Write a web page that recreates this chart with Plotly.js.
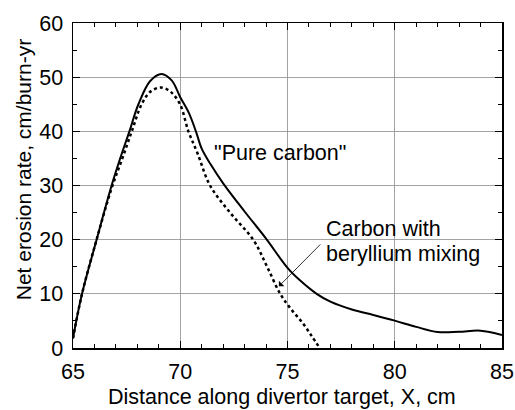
<!DOCTYPE html>
<html>
<head>
<meta charset="utf-8">
<script src="https://cdn.plot.ly/plotly-3.0.1.min.js"></script>
<style>html,body{margin:0;padding:0;background:#fff;}#chart{width:515px;height:410px;}</style>
</head>
<body>
<div id="chart"></div>
<script>
// Data
const pureX = [65, 65.42, 66.1, 66.8, 67.2, 67.63, 68.05, 68.6, 69.13, 69.6, 70.0, 70.4, 70.73, 71.0, 71.4, 72.0, 73.0, 74.0, 75.0, 75.58, 76.36, 77.0, 78.0, 79.0, 80.0, 81.0, 82.0, 83.0, 84.0, 85.0];
const pureY = [1.8, 10, 20, 30, 35, 40, 45, 49.3, 50.6, 49.4, 46.3, 43.4, 40, 36.8, 34.0, 30.4, 25.2, 20.2, 14.8, 12.5, 10, 8.55, 7.1, 6.1, 5.05, 3.9, 2.95, 3.0, 3.2, 2.4];
const mixX = [65, 65.42, 66.1, 66.8, 67.3, 67.74, 68.2, 68.6, 69.09, 69.55, 69.99, 70.38, 70.8, 71.39, 72.32, 73.4, 74.05, 74.66, 75.2, 75.71, 76.13, 76.5];
const mixY = [1.8, 10, 20, 29.5, 35, 40, 45, 47.3, 48.1, 47.3, 45, 40, 36.0, 30, 25.0, 20, 15, 10, 7.0, 4.6, 2.2, 0];
const xTicks = [65, 70, 75, 80, 85];
const yTicks = [0, 10, 20, 30, 40, 50, 60];
const labelPure = '"Pure carbon"';
const labelMix1 = 'Carbon with';
const labelMix2 = 'beryllium mixing';
const xTitle = 'Distance along divertor target, X, cm';
const yTitle = 'Net erosion rate, cm/burn-yr';

const FONT = 'Liberation Sans, Arial, Helvetica, sans-serif';
const FS = 21.5;

const traces = [
  {x: pureX, y: pureY, mode: 'lines', line: {color: '#000', width: 2, shape: 'spline', smoothing: 1.0}, hoverinfo: 'skip'},
  {x: mixX, y: mixY, mode: 'lines', line: {color: '#000', width: 2.5, dash: 'dot', shape: 'spline', smoothing: 1.0}, hoverinfo: 'skip'}
];

const axisCommon = {
  showline: true, linecolor: '#000', linewidth: 1.5, mirror: 'allticks',
  ticks: 'inside', ticklen: 7, tickcolor: '#000', tickwidth: 1,
  showgrid: true, gridcolor: '#8c8c8c', gridwidth: 0.8,
  zeroline: false,
  tickfont: {family: FONT, size: FS, color: '#000'}
};

const layout = {
  width: 515, height: 410,
  margin: {l: 73, r: 13, t: 23, b: 62},
  paper_bgcolor: '#fff', plot_bgcolor: '#fff',
  showlegend: false,
  font: {family: FONT, color: '#000'},
  xaxis: Object.assign({}, axisCommon, {
    range: [65, 85], tickvals: xTicks, ticktext: xTicks.map(String),
    minor: {dtick: 1, tick0: 65, ticks: 'inside', ticklen: 4, tickcolor: '#000', showgrid: false},
    ticklabelstandoff: 4,
    title: {text: ''}
  }),
  yaxis: Object.assign({}, axisCommon, {
    range: [0, 60], tickvals: yTicks, ticktext: yTicks.map(String),
    minor: {dtick: 5, tick0: 0, ticks: 'inside', ticklen: 4, tickcolor: '#000', showgrid: false},
    ticklabelstandoff: 4,
    title: {text: ''}
  }),
  annotations: [
    {xref: 'x', yref: 'y', x: 74.65, y: 36.0, text: labelPure, showarrow: false,
     font: {family: FONT, size: FS, color: '#000'}},
    {xref: 'x', yref: 'y', x: 76.7, y: 22.0, text: labelMix1, showarrow: false, xanchor: 'left',
     font: {family: FONT, size: FS, color: '#000'}},
    {xref: 'x', yref: 'y', x: 76.7, y: 17.3, text: labelMix2, showarrow: false, xanchor: 'left',
     font: {family: FONT, size: FS, color: '#000'}},
    {xref: 'x', yref: 'y', axref: 'x', ayref: 'y', x: 74.6, y: 11.4, ax: 76.6, ay: 19.4, text: '',
     showarrow: true, arrowhead: 1, arrowsize: 1.6, arrowwidth: 0.8, arrowcolor: '#000', standoff: 0},
    {xref: 'paper', yref: 'paper', x: 0.488, y: -0.15, yanchor: 'middle', text: xTitle, showarrow: false,
     font: {family: FONT, size: FS, color: '#000'}},
    {xref: 'paper', yref: 'paper', x: -0.1166, y: 0.55, xanchor: 'center', yanchor: 'middle', textangle: -90, text: yTitle, showarrow: false,
     font: {family: FONT, size: 21, color: '#000'}}
  ]
};

Plotly.newPlot('chart', traces, layout, {staticPlot: true, displayModeBar: false});
</script>
</body>
</html>
